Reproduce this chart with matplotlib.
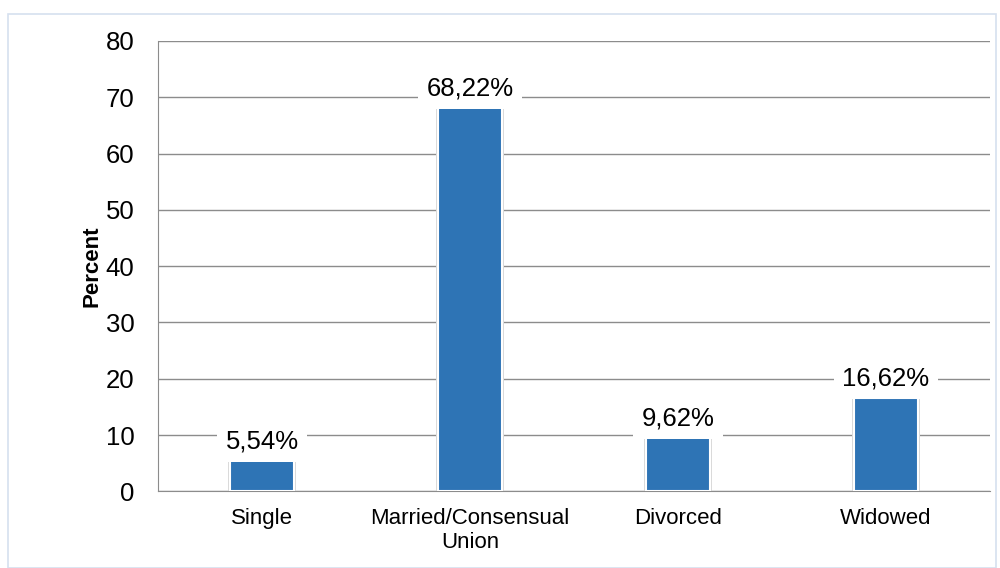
import matplotlib.pyplot as plt
from matplotlib.patches import Rectangle

plt.rcParams['font.family'] = ['Liberation Sans', 'DejaVu Sans']

categories = ['Single', 'Married/Consensual\nUnion', 'Divorced', 'Widowed']
values = [5.54, 68.22, 9.62, 16.62]
labels = ['5,54%', '68,22%', '9,62%', '16,62%']

fig = plt.figure(figsize=(10, 5.68), dpi=100)
# light outer frame
fig.patches.append(Rectangle((0.008, 0.0), 0.988, 0.975, transform=fig.transFigure,
                             fill=False, edgecolor='#d6e0ef', linewidth=1.2))
ax = fig.add_axes([0.158, 0.135, 0.832, 0.793])

x = range(len(categories))
# faint shadow behind the bars
ax.bar(x, values, width=0.33, color='#d9d9d9', linewidth=0, zorder=2)
ax.bar(x, values, width=0.31, color='#2e74b5', edgecolor='white', linewidth=1.5, zorder=3)

for i, (v, lab) in enumerate(zip(values, labels)):
    ax.text(i, v + 1.2, lab, ha='center', va='bottom', fontsize=18.5, zorder=4,
            bbox=dict(facecolor='white', edgecolor='none', pad=6))

ax.set_xlim(-0.5, 3.5)
ax.set_ylim(0, 80)
ax.set_yticks(range(0, 81, 10))
ax.set_xticks(list(x))
ax.set_xticklabels(categories, fontsize=16)
ax.tick_params(axis='y', labelsize=18.5, length=0, pad=17)
ax.tick_params(axis='x', length=0, pad=12)
ax.grid(axis='y', color='#8c8c8c', linewidth=1, zorder=0)
for s in ['top', 'right']:
    ax.spines[s].set_visible(False)
ax.spines['left'].set_color('#8c8c8c')
ax.spines['bottom'].set_color('#8c8c8c')
ax.set_ylabel('Percent', fontsize=16, fontweight='bold', labelpad=2)

fig.savefig('out.png', dpi=100)
